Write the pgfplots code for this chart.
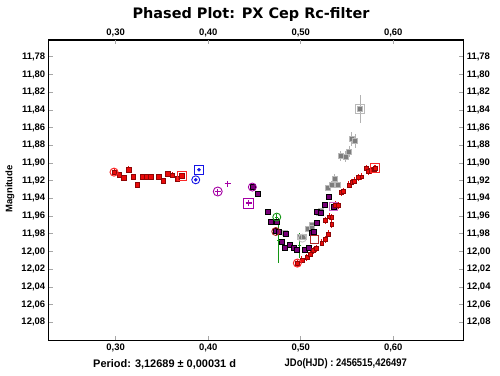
\documentclass[border=0pt]{standalone}
\usepackage{pgfplots}
\pgfplotsset{compat=1.18}
\usepackage{fontspec}
\setmainfont{Liberation Sans}
\newfontfamily\titlefont{DejaVu Sans}
\definecolor{myred}{RGB}{235,10,10}
\definecolor{lred}{RGB}{250,40,40}
\definecolor{mypurple}{RGB}{120,0,120}
\definecolor{plpurple}{RGB}{165,0,165}
\definecolor{mygray}{RGB}{125,125,125}
\definecolor{mygreen}{RGB}{20,150,20}
\definecolor{myblue}{RGB}{20,20,230}
\definecolor{mydkred}{RGB}{175,40,40}

\pgfplotsset{base/.style={
  at={(48.7bp,35bp)}, anchor=south west, scale only axis,
  width=414.6bp, height=300bp,
  xmin=0.2276, xmax=0.6757, ymin=11.761, ymax=12.100, y dir=reverse,
  xtick={0.3,0.4,0.5,0.6},
  ytick={11.78,11.80,11.82,11.84,11.86,11.88,11.90,11.92,11.94,11.96,11.98,12.00,12.02,12.04,12.06,12.08},
  tick align=inside, major tick length=4bp,
  tick style={gray!70, line width=0.8bp},
  axis line style={line width=1bp},
  ticklabel style={font=\bfseries\fontsize{9.5}{11}\selectfont},
  /pgf/number format/assume math mode=true,
  /pgf/number format/use comma,
  /pgf/number format/fixed,
  /pgf/number format/fixed zerofill,
  /pgf/number format/precision=2,
  clip=false,
}}

\begin{document}
\begin{tikzpicture}[x=1bp,y=1bp]
\path[use as bounding box] (0,0) rectangle (500,375);

\begin{axis}[base, xticklabel pos=lower, yticklabel pos=left]

% red left series
\addplot[myred, only marks, mark=square*, mark size=2.2bp, mark options={fill=myred, draw=myred!60!black, line width=0.3bp},
  error bars/.cd, y dir=both, y explicit, error mark=none, error bar style={myred, line width=0.8bp}]
  table[x=x, y=y, y error=e] {
x y e
0.2982 11.9103 0.003
0.3039 11.9133 0.003
0.3086 11.9164 0.003
0.3140 11.9077 0.004
0.3190 11.9153 0.003
0.3234 11.9246 0.003
0.3284 11.9153 0.003
0.3331 11.9153 0.003
0.3378 11.9153 0.003
0.3465 11.9153 0.003
0.3515 11.9198 0.003
0.3562 11.9122 0.003
0.3612 11.9137 0.003
0.3663 11.9178 0.003
0.3714 11.9145 0.003
};
\addplot[lred, only marks, mark=o, mark size=4bp, mark options={draw=lred, fill=none, line width=1bp}] coordinates {(0.2982,11.9103)};
\addplot[lred, only marks, mark=square, mark size=4.5bp, mark options={draw=lred, fill=none, line width=1bp}] coordinates {(0.3714,11.9145)};

% blue series
\addplot[myblue, only marks, mark=*, mark size=1.6bp, mark options={draw=myblue, fill=myblue}] coordinates {(0.3865,11.9190) (0.3900,11.9077)};
\addplot[myblue, only marks, mark=o, mark size=4bp, mark options={draw=myblue, fill=none, line width=0.9bp}] coordinates {(0.3865,11.9190)};
\addplot[myblue, only marks, mark=square, mark size=4.5bp, mark options={draw=myblue, fill=none, line width=0.9bp}] coordinates {(0.3900,11.9077)};

% purple plus series
\addplot[plpurple, only marks, mark=+, mark size=3bp, mark options={draw=plpurple, line width=1.3bp}] coordinates {(0.4103,11.9322) (0.4211,11.9235) (0.4438,11.9453)};
\addplot[plpurple, only marks, mark=o, mark size=4.5bp, mark options={draw=plpurple, fill=none, line width=0.9bp}] coordinates {(0.4103,11.9322)};
\addplot[plpurple, only marks, mark=square, mark size=5bp, mark options={draw=plpurple, fill=none, line width=0.9bp}] coordinates {(0.4438,11.9453)};

% gray series
\addplot[mygray, only marks, mark=square*, mark size=2.5bp, mark options={fill=mygray, draw=gray!55, line width=0.5bp},
  error bars/.cd, y dir=both, y explicit, error mark=none, error bar style={gray!60, line width=0.8bp}]
  table[x=x, y=y, y error=e] {
x y e
0.4830 11.9792 0.003
0.4992 11.9831 0.003
0.5036 11.9831 0.003
0.5076 11.9747 0.003
0.5119 11.9698 0.003
0.5119 11.9736 0.003
0.5190 11.9566 0.003
0.5216 11.9537 0.003
0.5288 11.9277 0.003
0.5335 11.9246 0.004
0.5400 11.9246 0.004
0.5368 11.9178 0.005
0.5432 11.8919 0.006
0.5486 11.8927 0.006
0.5522 11.8870 0.006
0.5551 11.8727 0.008
0.5587 11.8749 0.008
0.5641 11.8388 0.016
};
\addplot[gray!45, only marks, mark=o, mark size=4bp, mark options={draw=gray!45, fill=none, line width=0.9bp}] coordinates {(0.5017,11.9849)};
\addplot[gray!55, only marks, mark=square, mark size=4.5bp, mark options={draw=gray!55, fill=none, line width=0.9bp}] coordinates {(0.5641,11.8388)};

% purple series
\addplot[mypurple, only marks, mark=square*, mark size=2.5bp, mark options={fill=mypurple, draw=black, line width=0.6bp},
  error bars/.cd, y dir=both, y explicit, error mark=none, error bar style={mypurple, line width=0.8bp}]
  table[x=x, y=y, y error=e] {
x y e
0.4477 11.9272 0.003
0.4531 11.9348 0.003
0.4639 11.9555 0.003
0.4679 11.9661 0.003
0.4741 11.9661 0.003
0.4733 11.9766 0.003
0.4758 11.9774 0.003
0.4795 11.9887 0.003
0.4830 11.9962 0.003
0.4841 11.9803 0.003
0.4884 11.9924 0.003
0.4920 11.9962 0.003
0.4957 11.9981 0.003
0.5046 11.9981 0.003
0.5082 11.9962 0.003
0.5119 11.9792 0.003
0.5136 11.9774 0.003
0.5173 11.9679 0.003
0.5173 11.9548 0.003
0.5216 11.9566 0.003
0.5263 11.9472 0.003
0.5298 11.9385 0.003
0.5353 11.9492 0.003
};
\addplot[plpurple, only marks, mark=o, mark size=4bp, mark options={draw=plpurple, fill=none, line width=0.9bp}] coordinates {(0.4477,11.9272)};
\addplot[plpurple!60, only marks, mark=square, mark size=4.3bp, mark options={draw=plpurple!60, fill=none, line width=0.9bp}] coordinates {(0.5353,11.9492)};

% green series
\addplot[mygreen, only marks, mark=-, mark size=1.5bp, mark options={draw=mygreen},
  error bars/.cd, y dir=both, y explicit, error mark=none, error bar style={mygreen, line width=1bp}]
  table[x=x, y=y, y error=e] {
x y e
0.4741 11.9611 0.004
0.4758 11.9873 0.0254
0.4990 11.9930 0.014
};
\addplot[mygreen, only marks, mark=o, mark size=4bp, mark options={draw=mygreen, fill=none, line width=0.9bp}] coordinates {(0.4741,11.9611)};

% dark red markers
\addplot[mydkred, only marks, mark=o, mark size=4bp, mark options={draw=mydkred, fill=none, line width=0.9bp}] coordinates {(0.4730,11.9774)};
\addplot[mydkred, only marks, mark=square, mark size=4.3bp, mark options={draw=mydkred, fill=none, line width=0.9bp}] coordinates {(0.5150,11.9864)};

% red right series
\addplot[myred, only marks, mark=square*, mark size=1.9bp, mark options={fill=myred, draw=myred!60!black, line width=0.3bp},
  error bars/.cd, y dir=both, y explicit, error mark=none, error bar style={myred, line width=0.8bp}]
  table[x=x, y=y, y error=e] {
x y e
0.4963 12.0131 0.004
0.5011 12.0094 0.004
0.5065 12.0063 0.004
0.5101 12.0026 0.004
0.5136 11.9989 0.004
0.5165 11.9962 0.004
0.5227 11.9902 0.004
0.5263 11.9860 0.004
0.5298 11.9800 0.004
0.5335 11.9690 0.004
0.5309 11.9605 0.004
0.5263 11.9650 0.004
0.5335 11.9611 0.004
0.5371 11.9472 0.004
0.5407 11.9480 0.004
0.5436 11.9333 0.004
0.5461 11.9322 0.004
0.5519 11.9246 0.004
0.5551 11.9216 0.004
0.5576 11.9201 0.004
0.5623 11.9159 0.004
0.5659 11.9153 0.004
0.5706 11.9058 0.004
0.5731 11.9096 0.004
0.5760 11.9085 0.004
0.5792 11.9066 0.004
0.5803 11.9058 0.004
};
\addplot[lred, only marks, mark=o, mark size=4bp, mark options={draw=lred, fill=none, line width=1bp}] coordinates {(0.4963,12.0131)};
\addplot[lred, only marks, mark=square, mark size=4.5bp, mark options={draw=lred, fill=none, line width=1bp}] coordinates {(0.5803,11.9058)};
\end{axis}

\begin{axis}[base, xticklabel pos=upper, yticklabel pos=right]
\addplot[draw=none] coordinates {(0.3,11.9)};
\end{axis}

\node[font=\titlefont\bfseries\fontsize{14.5}{16}\selectfont] at (251,360) {Phased Plot: PX Cep Rc-filter};
\node[font=\bfseries\fontsize{11}{13}\selectfont, anchor=west, inner sep=0pt] at (93,11) {Period: 3,12689 ± 0,00031 d};
\node[font=\bfseries\fontsize{11}{13}\selectfont, anchor=east, inner sep=0pt] at (407,11) {\scalebox{0.86}[1]{JDo(HJD) : 2456515,426497}};
\node[font=\bfseries\fontsize{9.5}{11}\selectfont, rotate=90] at (10,186) {Magnitude};
\end{tikzpicture}
\end{document}
